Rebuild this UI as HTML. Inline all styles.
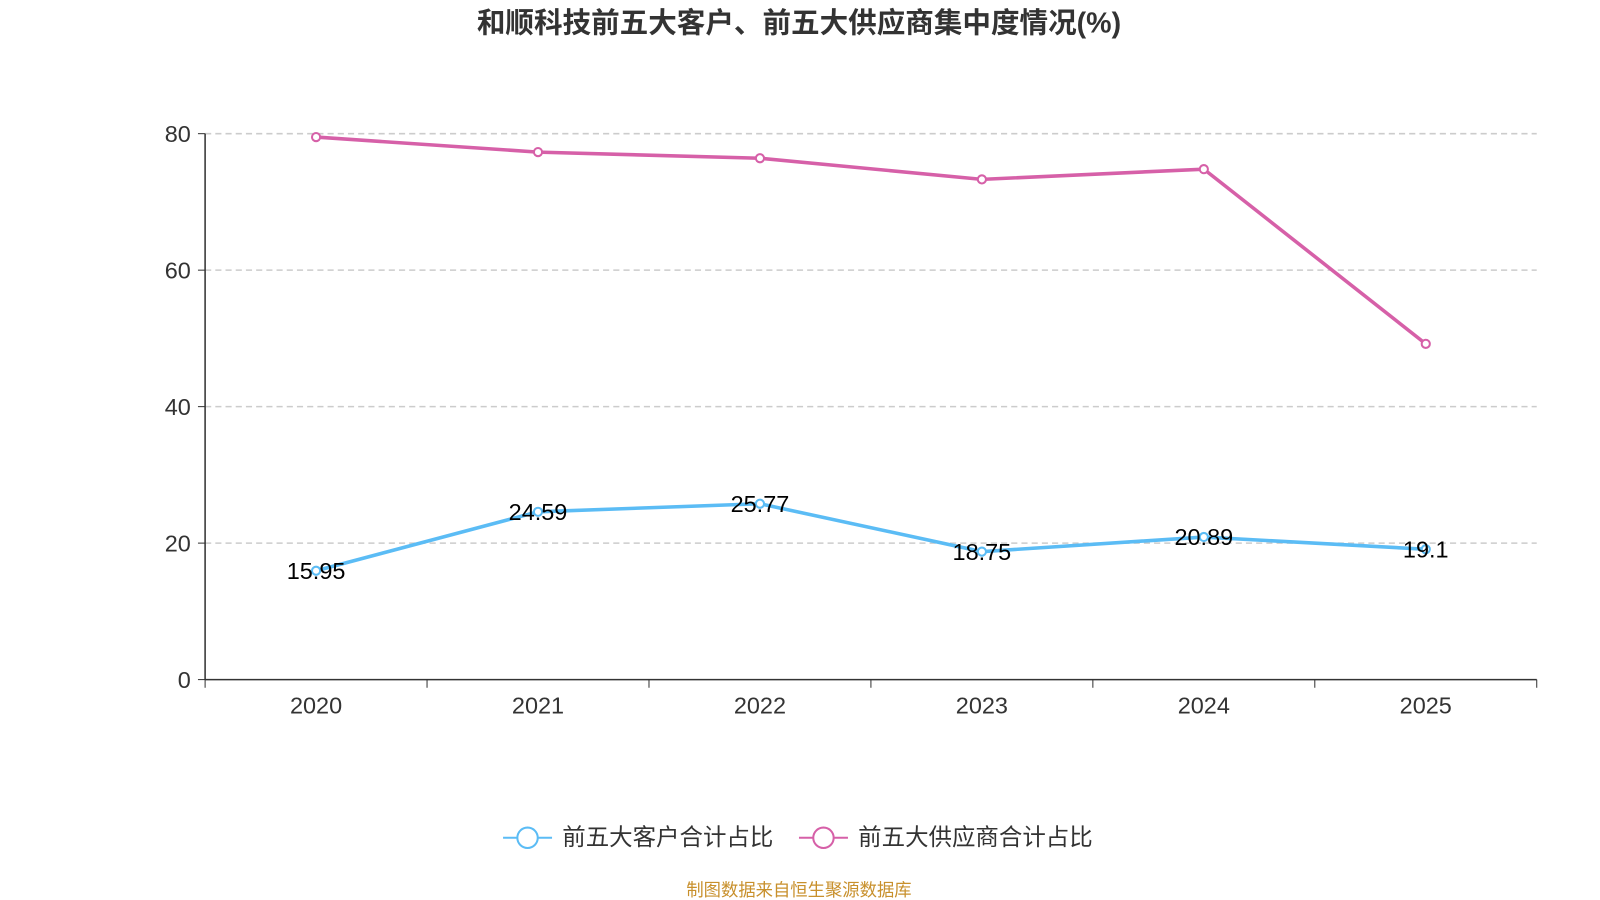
<!DOCTYPE html>
<html><head><meta charset="utf-8"><style>
body{margin:0;background:#fff;font-family:"Liberation Sans","Noto Sans CJK SC",sans-serif;overflow:hidden;}
svg{display:block;}
</style></head><body>
<svg width="1600" height="900" viewBox="0 0 1568 882" xmlns="http://www.w3.org/2000/svg" style="font-family:'Liberation Sans','Noto Sans CJK SC',sans-serif">
<text x="783" y="32" text-anchor="middle" font-size="28" font-weight="bold" fill="#333">和顺科技前五大客户、前五大供应商集中度情况(%)</text>
<g id="grid"></g><g id="axes"></g><g id="series"></g>
<g>
<g><line x1="493" y1="821" x2="541" y2="821" stroke="#5bbcf5" stroke-width="2"/><circle cx="517" cy="821" r="10" fill="#fff" stroke="#5bbcf5" stroke-width="2"/><text x="551" y="828" font-size="23" fill="#333">前五大客户合计占比</text></g>
<g><line x1="783" y1="821" x2="831" y2="821" stroke="#d660a8" stroke-width="2"/><circle cx="807" cy="821" r="10" fill="#fff" stroke="#d660a8" stroke-width="2"/><text x="841" y="828" font-size="23" fill="#333">前五大供应商合计占比</text></g>
</g>
<text x="783" y="878" text-anchor="middle" font-size="17" fill="#c8902c">制图数据来自恒生聚源数据库</text>
</svg>
<script>
const categories=["2020","2021","2022","2023","2024","2025"];
const customers=[15.95,24.59,25.77,18.75,20.89,19.1];
const suppliers=[79.5,77.3,76.4,73.3,74.8,49.2];
const yTicks=[0,20,40,60,80];
const NS="http://www.w3.org/2000/svg";
const L=201,R=1506,T=131,B=666;
const band=(R-L)/categories.length;
const x=i=>L+band*(i+0.5);
const y=v=>B-(v/80)*(B-T);
function mk(tag,attrs,parent,text){const e=document.createElementNS(NS,tag);for(const k in attrs)e.setAttribute(k,attrs[k]);if(text!==undefined)e.textContent=text;parent.appendChild(e);return e;}
const grid=document.getElementById('grid'),axes=document.getElementById('axes'),ser=document.getElementById('series');
yTicks.forEach(t=>{
 if(t>0){const g=mk('line',{x1:L,x2:R,y1:y(t),y2:y(t),stroke:'#ccc','stroke-dasharray':'6,4','stroke-width':1.5},grid);
 
 }
 mk('line',{x1:L-7,x2:L,y1:y(t),y2:y(t),stroke:'#333'},axes);
 const lb=mk('text',{x:L-14,y:y(t)+8,'text-anchor':'end','font-size':23,fill:'#333'},axes,t);
 
 
});
const ya=mk('line',{x1:L,x2:L,y1:T,y2:B,stroke:'#333','stroke-width':1.5},axes);


const xa=mk('line',{x1:L,x2:R,y1:B,y2:B,stroke:'#333','stroke-width':1.5},axes);


for(let i=0;i<=categories.length;i++)mk('line',{x1:L+band*i,x2:L+band*i,y1:B,y2:B+8,stroke:'#333'},axes);
categories.forEach((c,i)=>{const t=mk('text',{x:x(i),y:B+33,'text-anchor':'middle','font-size':23,fill:'#333'},axes,c);

});
function series(vals,color,name,labels){
 const p=mk('polyline',{points:vals.map((v,i)=>x(i)+','+y(v)).join(' '),fill:'none',stroke:color,'stroke-width':3.5},ser);
 
 
 vals.forEach((v,i)=>{const c=mk('circle',{cx:x(i),cy:y(v),r:4,fill:'#fff',stroke:color,'stroke-width':2},ser);
 
 
 if(labels){const t=mk('text',{x:x(i),y:y(v)+8,'text-anchor':'middle','font-size':23,fill:'#000'},ser,v);
 
 }});
}
series(suppliers,'#d660a8','suppliers',false);
series(customers,'#5bbcf5','customers',true);
</script>
</body></html>
